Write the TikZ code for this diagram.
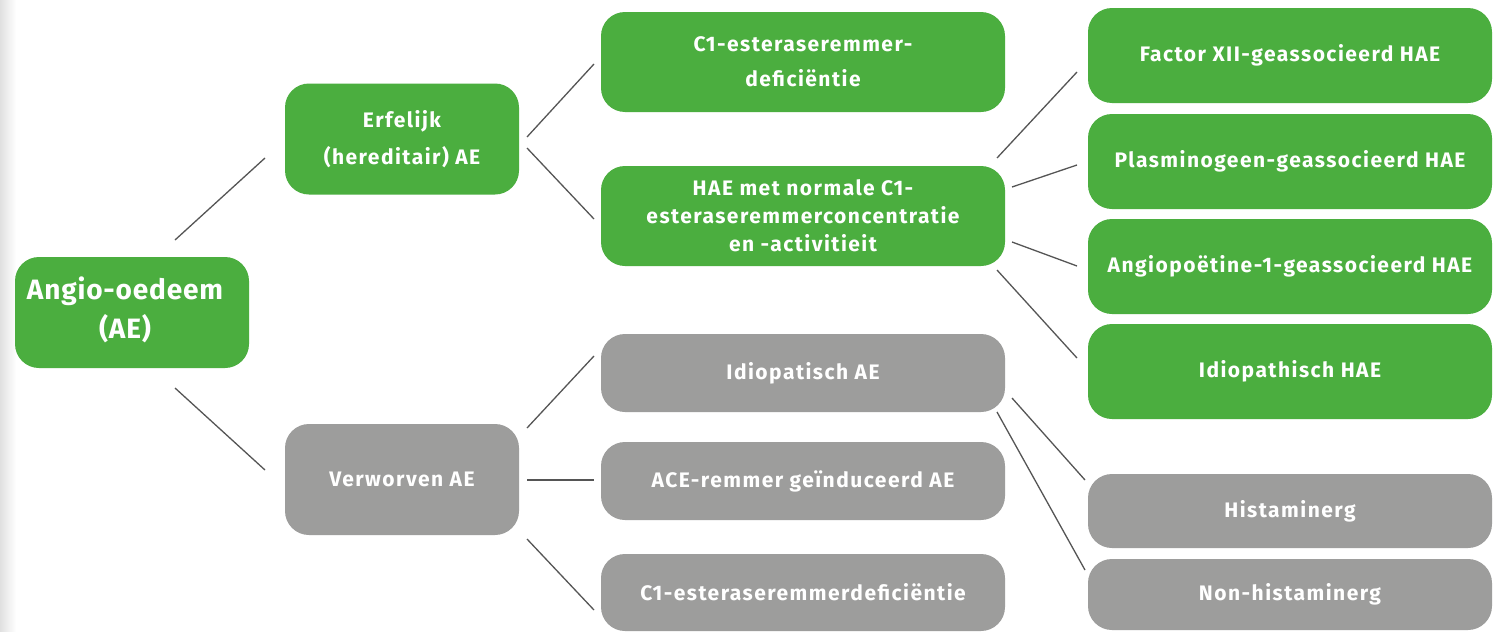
\documentclass[tikz,border=0pt]{standalone}
\usepackage{fontspec}
\setmainfont{Fira Sans}[LetterSpace=7]
\newfontfamily\bigfont{Fira Sans}[LetterSpace=3]
\definecolor{grn}{HTML}{4BAE3F}
\definecolor{gry}{HTML}{9D9D9C}
\definecolor{ln}{HTML}{555555}
\begin{document}
\begin{tikzpicture}[x=1pt,y=-1pt,
  box/.style={rounded corners=24pt,inner sep=0pt,text=white,font=\bfseries\fontsize{21}{35}\selectfont,align=center},
  gbox/.style={box,fill=grn},
  ybox/.style={box,fill=gry},
  conn/.style={draw=ln,line width=1.3pt}]
\useasboundingbox (0,0) rectangle (1497,632);
\fill[white] (0,0) rectangle (1497,632);
\shade[left color=black!12,right color=white] (0,0) rectangle (16,632);
% level 0
\node[gbox,minimum width=234pt,minimum height=111pt] (ae) at (132,312.5) {};
\node[text=white,font=\bigfont\bfseries\fontsize{28}{39}\selectfont,align=center,inner sep=0pt] (aet) at (125,310) {Angio-oedeem\\(AE)};
% level 1
\node[gbox,minimum width=234pt,minimum height=111pt,font=\bfseries\fontsize{21}{37}\selectfont] (erf) at (402,139) {Erfelijk\\(hereditair) AE};
\node[ybox,minimum width=234pt,minimum height=111pt] (verw) at (402,479.5) {Verworven AE};
% level 2
\node[gbox,minimum width=404pt,minimum height=100pt] (c1) at (803,62) {C1-esteraseremmer-\\deficiëntie};
\node[gbox,minimum width=404pt,minimum height=100pt,font=\bfseries\fontsize{21}{28}\selectfont] (hae) at (803,216) {HAE met normale C1-\\esteraseremmerconcentratie\\en -activitieit};
\node[ybox,minimum width=404pt,minimum height=78pt] (idio) at (803,373) {Idiopatisch AE};
\node[ybox,minimum width=404pt,minimum height=78pt] (ace) at (803,481) {ACE-remmer geïnduceerd AE};
\node[ybox,minimum width=404pt,minimum height=77pt] (c1b) at (803,592.5) {C1-esteraseremmerdeficiëntie};
% level 3
\node[gbox,minimum width=404pt,minimum height=95pt] (f12) at (1290,55.5) {Factor XII-geassocieerd HAE};
\node[gbox,minimum width=404pt,minimum height=95pt] (plas) at (1290,161.5) {Plasminogeen-geassocieerd HAE};
\node[gbox,minimum width=404pt,minimum height=95pt] (angp) at (1290,266.5) {Angiopoëtine-1-geassocieerd HAE};
\node[gbox,minimum width=404pt,minimum height=95pt] (ihae) at (1290,371.5) {Idiopathisch HAE};
\node[ybox,minimum width=404pt,minimum height=74pt] (hist) at (1290,511) {Histaminerg};
\node[ybox,minimum width=404pt,minimum height=71pt] (nhist) at (1290,594.5) {Non-histaminerg};
% connector end points
\coordinate (a1) at (175,240); \coordinate (a2) at (265,158);
\coordinate (b1) at (175,388); \coordinate (b2) at (265,470);
\coordinate (c1s) at (527,137); \coordinate (c1e) at (594,64);
\coordinate (c2s) at (527,148); \coordinate (c2e) at (594,219);
\coordinate (d1s) at (527,428); \coordinate (d1e) at (594,356);
\coordinate (d2s) at (527,480); \coordinate (d2e) at (594,480);
\coordinate (d3s) at (527,539); \coordinate (d3e) at (594,610);
\coordinate (e1s) at (997,158); \coordinate (e1e) at (1077,72);
\coordinate (e2s) at (1012,187); \coordinate (e2e) at (1077,165);
\coordinate (e3s) at (1012,242); \coordinate (e3e) at (1077,266);
\coordinate (e4s) at (997,270); \coordinate (e4e) at (1077,358);
\coordinate (f1s) at (1012,398); \coordinate (f1e) at (1085,480);
\coordinate (f2s) at (997,412); \coordinate (f2e) at (1085,570);
\draw[conn] (a1) -- (a2);
\draw[conn] (b1) -- (b2);
\draw[conn] (c1s) -- (c1e);
\draw[conn] (c2s) -- (c2e);
\draw[conn] (d1s) -- (d1e);
\draw[conn] (d2s) -- (d2e);
\draw[conn] (d3s) -- (d3e);
\draw[conn] (e1s) -- (e1e);
\draw[conn] (e2s) -- (e2e);
\draw[conn] (e3s) -- (e3e);
\draw[conn] (e4s) -- (e4e);
\draw[conn] (f1s) -- (f1e);
\draw[conn] (f2s) -- (f2e);
\end{tikzpicture}
\end{document}
